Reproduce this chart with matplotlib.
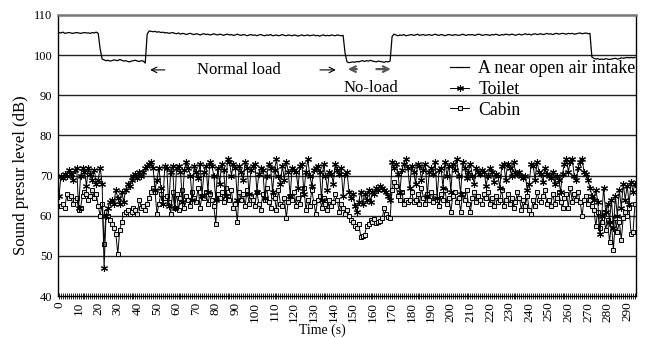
import numpy as np
import matplotlib
matplotlib.use("Agg")
import matplotlib.pyplot as plt
from matplotlib.ticker import MultipleLocator

# sampled every second, t = 0 .. 294
intake = [
    105.6, 105.5, 105.7, 105.4, 105.5, 105.6, 105.5, 105.4, 105.5, 105.6,
    105.5, 105.4, 105.5, 105.6, 105.5, 105.5, 105.4, 105.6, 105.5, 105.7,
    105.4, 101.5, 99.0, 98.8, 98.6, 98.7, 98.5, 98.6, 98.8, 98.7,
    98.6, 98.9, 98.7, 98.5, 98.6, 98.4, 98.3, 98.5, 98.6, 98.7,
    98.5, 98.4, 98.6, 98.5, 98.0, 105.2, 106.0, 105.9, 105.8, 105.9,
    105.7, 105.8, 105.6, 105.7, 105.5, 105.6, 105.4, 105.5, 105.6, 105.4,
    105.3, 105.5, 105.2, 105.4, 105.3, 105.1, 105.3, 105.4, 105.2, 105.1,
    105.3, 105.2, 105.0, 105.2, 105.3, 105.1, 105.2, 105.0, 105.1, 105.3,
    105.1, 105.0, 105.2, 105.1, 104.9, 105.1, 105.2, 105.0, 105.1, 104.9,
    105.0, 105.2, 105.0, 104.9, 105.1, 105.0, 104.8, 105.0, 105.1, 104.9,
    105.0, 104.8, 105.0, 105.1, 104.9, 104.8, 105.0, 104.9, 105.1, 104.8,
    104.9, 105.0, 104.8, 104.9, 105.1, 104.9, 104.8, 105.0, 104.9, 104.8,
    105.0, 104.9, 104.7, 104.9, 105.0, 104.8, 104.9, 105.0, 104.8, 104.9,
    105.0, 104.8, 104.9, 104.7, 104.9, 105.0, 104.8, 104.9, 104.8, 105.0,
    104.9, 104.8, 105.0, 104.9, 104.8, 104.9, 100.5, 98.3, 98.1, 98.2,
    98.3, 98.2, 98.4, 98.3, 98.5, 98.6, 98.4, 98.6, 98.5, 98.7,
    98.5, 98.4, 98.3, 98.5, 98.4, 98.3, 98.2, 98.4, 98.3, 98.5,
    104.6, 105.2, 105.0, 104.8, 105.0, 104.9, 105.1, 104.8, 104.9, 105.0,
    105.1, 104.9, 105.0, 105.2, 104.9, 105.0, 105.1, 104.9, 105.0, 105.1,
    104.9, 105.0, 105.2, 105.0, 104.9, 105.1, 105.0, 104.8, 105.0, 105.1,
    105.0, 104.9, 105.1, 105.0, 104.9, 105.0, 105.2, 105.0, 104.9, 105.1,
    105.0, 105.1, 104.9, 105.0, 105.2, 105.1, 104.9, 105.0, 105.1, 105.0,
    104.9, 105.1, 105.0, 105.2, 105.0, 104.9, 105.1, 105.0, 105.2, 105.1,
    105.0, 105.2, 105.1, 104.9, 105.1, 105.2, 105.0, 105.1, 105.3, 105.1,
    105.2, 105.0, 105.2, 105.3, 105.1, 105.2, 105.3, 105.1, 105.2, 105.4,
    105.2, 105.3, 105.1, 105.3, 105.4, 105.2, 105.3, 105.4, 105.3, 105.2,
    105.4, 105.3, 105.4, 105.2, 105.3, 105.4, 105.5, 105.3, 105.4, 105.5,
    105.3, 105.4, 99.5, 99.2, 99.0, 99.1, 98.9, 99.0, 98.9, 99.1,
    99.0, 98.9, 99.0, 99.1, 99.2, 99.0, 99.1, 99.3, 99.2, 99.3,
    99.4, 99.3, 99.4, 99.3, 99.4,
]

toilet = [
    65.0, 70.0, 69.5, 70.5, 70.0, 71.5, 70.5, 69.0, 71.5, 72.0,
    62.0, 70.0, 72.0, 71.0, 67.5, 72.0, 70.5, 69.0, 71.5, 68.0,
    69.0, 72.0, 68.0, 47.0, 60.0, 62.0, 63.5, 64.0, 63.0, 66.5,
    64.5, 63.0, 66.0, 63.5, 66.5, 68.0, 67.5, 69.0, 70.0, 70.5,
    69.5, 71.0, 70.0, 71.0, 72.0, 72.5, 73.0, 73.5, 72.0, 66.5,
    69.0, 72.0, 67.0, 63.0, 72.5, 72.0, 62.5, 71.0, 72.5, 62.0,
    72.0, 72.5, 71.0, 63.5, 71.5, 73.5, 72.0, 70.0, 64.0, 72.5,
    71.0, 69.5, 73.0, 65.0, 71.0, 72.5, 66.0, 73.5, 72.5, 70.0,
    64.0, 72.0, 68.0, 73.0, 71.5, 65.0, 74.0, 73.5, 70.0, 73.0,
    72.0, 64.0, 72.5, 71.0, 69.0, 73.5, 72.0, 65.5, 71.5, 72.5,
    73.0, 66.0, 70.5, 72.0, 71.5, 64.5, 70.0, 73.0, 72.0, 66.0,
    71.5, 74.0, 70.0, 68.0, 72.5, 69.0, 73.5, 71.0, 65.0, 72.0,
    71.5, 71.0, 67.0, 72.5, 73.0, 65.5, 71.0, 74.0, 70.0, 67.5,
    71.5, 72.0, 72.5, 71.0, 64.0, 73.0, 70.0, 66.5, 71.0, 70.5,
    68.0, 73.0, 71.5, 70.5, 72.0, 65.0, 70.5, 71.0, 66.0, 64.5,
    65.5, 62.5, 61.0, 63.5, 66.0, 63.0, 65.5, 64.0, 66.5, 63.5,
    66.0, 65.5, 67.0, 66.5, 67.5, 67.0, 66.5, 66.0, 65.0, 64.0,
    73.5, 72.0, 73.0, 70.5, 66.0, 71.5, 73.0, 74.0, 72.0, 67.0,
    72.5, 71.0, 68.0, 73.0, 72.5, 69.0, 71.5, 73.0, 65.0, 71.0,
    72.0, 70.5, 73.5, 64.5, 71.5, 72.0, 67.0, 73.5, 70.0, 72.5,
    66.0, 73.0, 71.5, 74.0, 70.0, 65.5, 73.5, 72.0, 69.5, 71.0,
    73.0, 70.0, 68.0, 72.0, 71.0, 70.5, 71.5, 71.0, 67.5, 70.0,
    72.0, 71.0, 68.5, 70.5, 70.0, 67.0, 72.5, 73.0, 69.0, 73.0,
    72.0, 70.0, 73.5, 71.0, 70.5, 71.0, 70.0, 69.5, 70.0, 66.5,
    68.0, 73.0, 72.5, 69.0, 73.5, 71.0, 70.5, 68.5, 72.0, 70.5,
    70.0, 69.5, 71.0, 68.0, 70.0, 69.0, 66.0, 70.5, 73.0, 74.0,
    71.0, 73.5, 74.0, 70.0, 69.0, 72.0, 73.5, 74.0, 71.0, 70.5,
    69.0, 67.0, 65.0, 64.0, 66.5, 63.5, 55.5, 60.0, 67.0, 61.0,
    63.0, 58.5, 64.0, 57.0, 65.0, 60.0, 66.5, 62.0, 68.0, 64.0,
    67.5, 63.0, 68.5, 66.0, 68.0,
]

cabin = [
    62.5, 62.5, 63.0, 62.0, 65.5, 64.5, 65.0, 63.0, 64.0, 64.5,
    61.5, 62.0, 65.0, 66.0, 65.5, 64.0, 65.0, 66.5, 64.5, 65.5,
    62.5, 60.0, 63.0, 53.0, 61.0, 60.0, 59.0, 58.0, 57.0, 55.5,
    50.5, 56.5, 58.5, 60.5, 61.0, 61.5, 60.5, 61.0, 62.0, 61.5,
    60.5, 64.0, 62.0, 62.5, 61.5, 63.0, 64.5, 66.0, 67.0, 66.0,
    60.5, 63.0, 65.5, 64.5, 64.5, 65.0, 63.5, 60.5, 66.0, 62.0,
    65.5, 61.5, 64.5, 66.5, 62.0, 65.0, 64.0, 62.5, 66.0, 64.5,
    63.5, 67.0, 62.0, 65.0, 64.5, 66.0, 63.0, 65.5, 64.0, 62.5,
    58.0, 65.5, 64.5, 66.0, 63.5, 67.0, 65.0, 64.0, 66.5, 62.0,
    63.0, 58.5, 66.0, 64.0, 65.5, 62.5, 66.5, 63.0, 65.0, 64.0,
    62.5, 66.0, 63.0, 61.5, 65.5, 64.0, 67.0, 63.5, 62.0, 65.0,
    64.5, 61.5, 66.5, 63.0, 62.5, 64.5, 59.5, 63.5, 65.0, 64.0,
    66.0, 62.5, 64.5, 63.0, 65.5, 67.0, 61.5, 64.0, 62.5, 66.5,
    63.5, 60.5, 64.0, 65.0, 62.0, 64.5, 63.0, 61.5, 64.0, 62.5,
    63.5, 65.5, 64.0, 61.0, 63.0, 62.0, 60.5, 61.5, 60.0, 59.0,
    58.5, 57.5, 57.0, 58.0, 54.8, 55.0, 55.2, 57.5, 58.0, 59.0,
    58.5, 59.2, 58.3, 58.5, 58.7, 59.5, 62.0, 60.5, 59.8, 59.5,
    66.5, 68.5, 67.5, 65.0, 64.0, 66.0, 63.0, 64.0, 63.5, 64.0,
    66.0, 63.5, 64.0, 65.5, 63.0, 67.0, 64.5, 63.0, 65.5, 64.0,
    66.0, 63.5, 65.0, 64.0, 62.5, 65.5, 64.0, 66.5, 63.0, 64.5,
    61.0, 65.0, 66.0, 63.5, 64.5, 61.0, 65.5, 64.0, 66.5, 63.0,
    61.0, 64.5, 66.0, 63.5, 65.0, 64.0, 63.0, 65.5, 64.5, 66.0,
    63.0, 64.5, 62.5, 65.0, 63.5, 64.0, 66.5, 62.5, 64.0, 65.5,
    63.0, 64.5, 62.0, 63.5, 66.0, 64.5, 61.5, 64.0, 62.5, 65.0,
    61.5, 60.5, 64.0, 62.5, 66.0, 64.0, 63.5, 65.0, 66.5, 63.0,
    64.0, 62.5, 65.5, 63.0, 64.5, 66.0, 63.5, 62.0, 64.5, 65.5,
    62.0, 67.0, 63.5, 65.5, 64.0, 66.0, 63.5, 60.0, 64.0, 65.0,
    63.0, 64.0, 62.5, 61.5, 57.5, 61.0, 57.0, 58.5, 61.0, 56.5,
    59.0, 53.5, 58.0, 51.5, 59.5, 56.0, 58.5, 54.0, 59.5, 61.0,
    60.0, 62.0, 55.5, 56.0, 63.0,
]

time_s = np.arange(len(intake))

serif = ["Liberation Serif", "DejaVu Serif"]
plt.rcParams["font.family"] = serif

fig = plt.figure(figsize=(6.45, 3.38), dpi=100)
ax = fig.add_axes([0.090, 0.124, 0.896, 0.832])

for yv in range(50, 101, 10):
    ax.axhline(yv, color="#222222", lw=1.0, zorder=1)

ax.plot(time_s, intake, color="black", lw=0.9, label="A near open air intake", zorder=3)
ax.plot(time_s, toilet, color="black", lw=0.7, marker=(6, 2, 0), ms=5, mew=0.8,
        label="Toilet", zorder=3)
ax.plot(time_s, cabin, color="black", lw=0.7, marker="s", ms=3.5, mew=0.7,
        mfc="#dddddd", label="Cabin", zorder=2)

ax.set_xlim(-0.5, len(intake) - 0.5)
ax.set_ylim(40, 110)
ax.xaxis.set_major_locator(MultipleLocator(10))
ax.xaxis.set_minor_locator(MultipleLocator(1))
ax.yaxis.set_major_locator(MultipleLocator(10))
ax.tick_params(axis="x", which="both", direction="inout", length=4, width=0.6,
               labelsize=9.5, labelrotation=90, pad=2)
ax.tick_params(axis="y", length=0, labelsize=9, pad=4)

ax.spines["top"].set_color("#777777")
ax.spines["top"].set_linewidth(1.8)
for s in ["left", "right", "bottom"]:
    ax.spines[s].set_linewidth(1.0)

ax.set_xlabel("Time (s)", fontsize=10)
ax.xaxis.set_label_coords(0.458, -0.098)
ax.set_ylabel("Sound presur level (dB)", fontsize=12)
ax.yaxis.set_label_coords(-0.05, 0.43)

arrow = dict(arrowstyle="->", lw=0.8, color="black", shrinkA=0, shrinkB=0)
ax.annotate("", xy=(46.5, 96.3), xytext=(54.0, 96.3), arrowprops=arrow)
ax.text(92, 96.3, "Normal load", fontsize=12, ha="center", va="center")
ax.annotate("", xy=(141.3, 96.3), xytext=(133.2, 96.3), arrowprops=arrow)
ax.text(159, 91.8, "No-load", fontsize=12, ha="center", va="center")
bold_arrow = dict(arrowstyle="->", lw=1.6, color="#555555", shrinkA=0, shrinkB=0)
ax.annotate("", xy=(147.4, 96.5), xytext=(152.0, 96.5), arrowprops=bold_arrow)
ax.annotate("", xy=(169.4, 96.5), xytext=(162.0, 96.5), arrowprops=bold_arrow)

ax.legend(loc="upper left", bbox_to_anchor=(0.678, 0.838), frameon=False,
          fontsize=12.8, handlelength=1.1, handletextpad=0.5, labelspacing=0.2,
          borderpad=0, borderaxespad=0)

fig.savefig("out.png", dpi=100)
